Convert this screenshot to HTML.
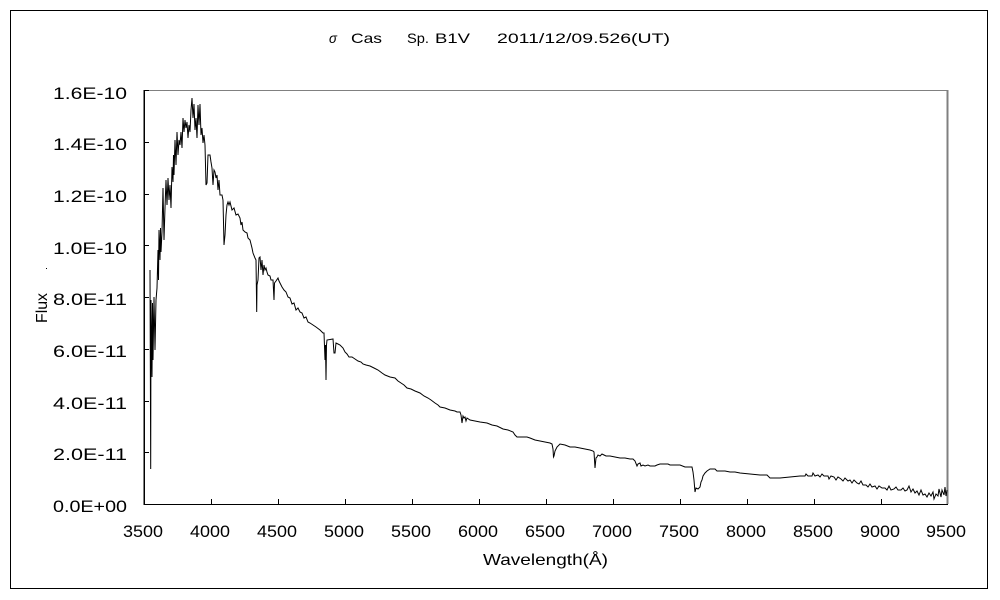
<!DOCTYPE html>
<html>
<head>
<meta charset="utf-8">
<style>
html,body{margin:0;padding:0;background:#fff;}
svg{display:block;}
text{font-family:"Liberation Sans","Noto Sans CJK JP",sans-serif;fill:#000;}
</style>
</head>
<body>
<svg width="1000" height="600" viewBox="0 0 1000 600" xmlns="http://www.w3.org/2000/svg">
<rect x="0" y="0" width="1000" height="600" fill="#fff"/>
<!-- outer border -->
<rect x="10.5" y="10.5" width="977" height="578" fill="none" stroke="#000" stroke-width="1"/>

<!-- title -->
<text x="329" y="43" font-size="14" font-style="italic" textLength="8" lengthAdjust="spacingAndGlyphs">σ</text>
<text x="351" y="43" font-size="14" textLength="31" lengthAdjust="spacingAndGlyphs">Cas</text>
<text x="407" y="43" font-size="14" textLength="22" lengthAdjust="spacingAndGlyphs">Sp.</text>
<text x="435" y="43" font-size="14" textLength="35" lengthAdjust="spacingAndGlyphs">B1V</text>
<text x="497" y="43" font-size="14" textLength="173" lengthAdjust="spacingAndGlyphs">2011/12/09.526(UT)</text>

<!-- plot frame -->
<line x1="144" y1="90.5" x2="948" y2="90.5" stroke="#808080" stroke-width="1"/>
<line x1="947.5" y1="90" x2="947.5" y2="504" stroke="#808080" stroke-width="2"/>
<line x1="143.5" y1="90" x2="143.5" y2="505" stroke="#808080" stroke-width="1"/>
<line x1="144.5" y1="90" x2="144.5" y2="505" stroke="#000" stroke-width="1"/>
<line x1="144" y1="504.5" x2="948" y2="504.5" stroke="#000" stroke-width="1"/>

<!-- y ticks -->
<g stroke="#000" stroke-width="1">
<line x1="144" y1="90.5" x2="149" y2="90.5"/>
<line x1="144" y1="142.5" x2="149" y2="142.5"/>
<line x1="144" y1="194.5" x2="149" y2="194.5"/>
<line x1="144" y1="245.5" x2="149" y2="245.5"/>
<line x1="144" y1="297.5" x2="149" y2="297.5"/>
<line x1="144" y1="349.5" x2="149" y2="349.5"/>
<line x1="144" y1="401.5" x2="149" y2="401.5"/>
<line x1="144" y1="452.5" x2="149" y2="452.5"/>
</g>
<!-- x ticks -->
<g stroke="#000" stroke-width="1">
<line x1="211.5" y1="499" x2="211.5" y2="504"/>
<line x1="278.5" y1="499" x2="278.5" y2="504"/>
<line x1="345.5" y1="499" x2="345.5" y2="504"/>
<line x1="412.5" y1="499" x2="412.5" y2="504"/>
<line x1="479.5" y1="499" x2="479.5" y2="504"/>
<line x1="546.5" y1="499" x2="546.5" y2="504"/>
<line x1="613.5" y1="499" x2="613.5" y2="504"/>
<line x1="680.5" y1="499" x2="680.5" y2="504"/>
<line x1="747.5" y1="499" x2="747.5" y2="504"/>
<line x1="814.5" y1="499" x2="814.5" y2="504"/>
<line x1="881.5" y1="499" x2="881.5" y2="504"/>
</g>

<!-- y labels -->
<g font-size="17" text-anchor="end">
<text x="127" y="99" textLength="74" lengthAdjust="spacingAndGlyphs">1.6E-10</text>
<text x="127" y="150" textLength="74" lengthAdjust="spacingAndGlyphs">1.4E-10</text>
<text x="127" y="202" textLength="74" lengthAdjust="spacingAndGlyphs">1.2E-10</text>
<text x="127" y="254" textLength="74" lengthAdjust="spacingAndGlyphs">1.0E-10</text>
<text x="127" y="305" textLength="74" lengthAdjust="spacingAndGlyphs">8.0E-11</text>
<text x="127" y="357" textLength="74" lengthAdjust="spacingAndGlyphs">6.0E-11</text>
<text x="127" y="409" textLength="74" lengthAdjust="spacingAndGlyphs">4.0E-11</text>
<text x="127" y="460" textLength="74" lengthAdjust="spacingAndGlyphs">2.0E-11</text>
<text x="127" y="512" textLength="74" lengthAdjust="spacingAndGlyphs">0.0E+00</text>
</g>

<!-- x labels -->
<g font-size="17">
<text x="123" y="537" textLength="40" lengthAdjust="spacingAndGlyphs">3500</text>
<text x="190" y="537" textLength="40" lengthAdjust="spacingAndGlyphs">4000</text>
<text x="257" y="537" textLength="40" lengthAdjust="spacingAndGlyphs">4500</text>
<text x="324" y="537" textLength="40" lengthAdjust="spacingAndGlyphs">5000</text>
<text x="391" y="537" textLength="40" lengthAdjust="spacingAndGlyphs">5500</text>
<text x="458" y="537" textLength="40" lengthAdjust="spacingAndGlyphs">6000</text>
<text x="525" y="537" textLength="40" lengthAdjust="spacingAndGlyphs">6500</text>
<text x="592" y="537" textLength="40" lengthAdjust="spacingAndGlyphs">7000</text>
<text x="659" y="537" textLength="40" lengthAdjust="spacingAndGlyphs">7500</text>
<text x="726" y="537" textLength="40" lengthAdjust="spacingAndGlyphs">8000</text>
<text x="793" y="537" textLength="40" lengthAdjust="spacingAndGlyphs">8500</text>
<text x="860" y="537" textLength="40" lengthAdjust="spacingAndGlyphs">9000</text>
<text x="926" y="537" textLength="40" lengthAdjust="spacingAndGlyphs">9500</text>
</g>

<!-- axis titles -->
<text x="483" y="565" font-size="16" textLength="125" lengthAdjust="spacingAndGlyphs">Wavelength(Å)</text>
<text transform="translate(47,323) rotate(-90)" x="0" y="0" font-size="16" textLength="30" lengthAdjust="spacingAndGlyphs">Flux</text>
<rect x="46" y="268" width="1" height="1" fill="#000"/>

<!-- spectrum -->
<path fill="none" stroke="#000" stroke-width="1" stroke-linejoin="miter" d="
M150,270 L150.7,469 L151,300 L152,377 L152.5,303 L153,360 L154,297 L155,350 L156,300 L157,288 L158,250 L158.5,280 L159,230 L160,260 L160.5,228 L161,252 L162,232 L163,188 L164,240 L165,208 L166,180 L167,205 L168,178 L169,200 L170,185 L171,208 L172,167 L173,182 L173.5,155 L174,175 L175,140 L176,165 L177,132 L178,155 L179,140 L180,145 L181,132 L182,148 L183,118 L184,132 L185,120 L186,128 L187,122 L188,138 L189,125 L190,132 L191,110 L192,98 L193,118 L194,104 L195,130 L196,118 L197,138 L198,105 L199,125 L200,104 L201,135 L202,128 L203,143 L204,135 L205,145 L206,185 L207,183 L208,155 L210,155 L211,162 L212,168 L213,185 L214,170 L215,172 L216,178 L217,175 L218,190 L219,180 L220,195 L222,195 L223,200 L224,245 L225,235 L226,215 L227,205 L228,202 L229,205 L230,202 L232,210 L234,208 L236,215 L238,214 L240,218 L241,225 L242,222 L243,230 L245,232 L247,233 L248,238 L250,240 L251,244 L252,248 L253,253 L255,258 L256,260 L256.7,312 L257,285 L258,280 L259,258 L260,257 L261,270 L262,260 L263,275 L264,265 L265,270 L266,268 L267,272 L268,275 L270,276 L271,280 L273,280 L274,300 L274.5,283 L276,281 L278,278 L279,281 L280,283 L282,287 L284,290 L286,292 L288,297 L290,298 L292,304 L294,303 L296,310 L298,308 L300,312 L302,313 L304,318 L306,317 L308,322 L310,323 L313,325 L316,327 L320,330 L323,333 L324,333 L325,360 L325.5,345 L326,380 L326.5,345 L327,340 L333,339 L334,353 L335,353 L336,343 L338,344 L340,345 L343,348 L345,352 L347,354 L349,357 L352,357 L355,359 L358,361 L361,362 L363,364 L366,365 L370,366 L374,368 L378,370 L382,373 L385,375 L390,377 L395,378 L398,381 L401,383 L404,385 L407,388 L411,389 L415,391 L420,393 L424,396 L428,398 L431,400 L435,403 L438,405 L440,407 L445,408 L450,410 L455,411 L457,412 L460,412 L461,415 L462,423 L463,416 L464,418 L465,417 L466,421 L467,418 L470,420 L475,421 L480,422 L487,423 L492,425 L497,426 L503,429 L508,430 L513,432 L515,435 L517,437 L522,437 L527,437 L530,438 L535,440 L540,441 L545,442 L550,443 L552,444 L553,449 L553.5,457 L554,456 L555,451 L557,447 L560,444 L565,445 L570,447 L575,447 L580,448 L585,449 L590,450 L593,451 L594,452 L595,468 L596,458 L597,457 L598,455 L600,456 L602,454 L604,455 L606,456 L610,456 L615,457 L620,458 L625,458 L630,459 L633,459 L635,461 L637,466 L638,464 L640,463 L641,466 L643,465 L645,466 L648,465 L650,466 L655,466 L657,465 L660,464 L668,464 L670,465 L675,465 L680,465 L685,467 L692,467 L693,472 L694,480 L695,492 L696,488 L698,489 L700,487 L701,482 L702,480 L703,476 L705,473 L707,471 L710,469 L715,469 L717,471 L725,471 L730,472 L735,472 L740,473 L750,474 L760,475 L767,475 L770,478 L775,478 L780,478 L790,477 L800,476 L805,476 L806,474 L808,476 L812,476 L813,473 L815,476 L818,475 L820,477 L822,474 L824,476 L828,476 L829,479 L831,476 L834,477 L836,480 L838,477 L841,479 L843,481 L845,478 L848,481 L850,480 L852,483 L854,480 L857,483 L859,484 L861,481 L863,485 L866,485 L868,487 L870,484 L872,487 L875,486 L877,489 L879,486 L882,488 L885,488 L887,490 L889,486 L891,490 L894,489 L896,487 L898,490 L901,490 L903,488 L905,491 L907,490 L909,486 L911,492 L913,489 L915,493 L917,491 L919,495 L921,490 L923,495 L925,494 L927,497 L929,493 L931,496 L933,492 L934,499 L936,494 L938,496 L939,489 L941,497 L942,490 L944,495 L945,487 L946,496 L947,490"/>
</svg>
</body>
</html>
